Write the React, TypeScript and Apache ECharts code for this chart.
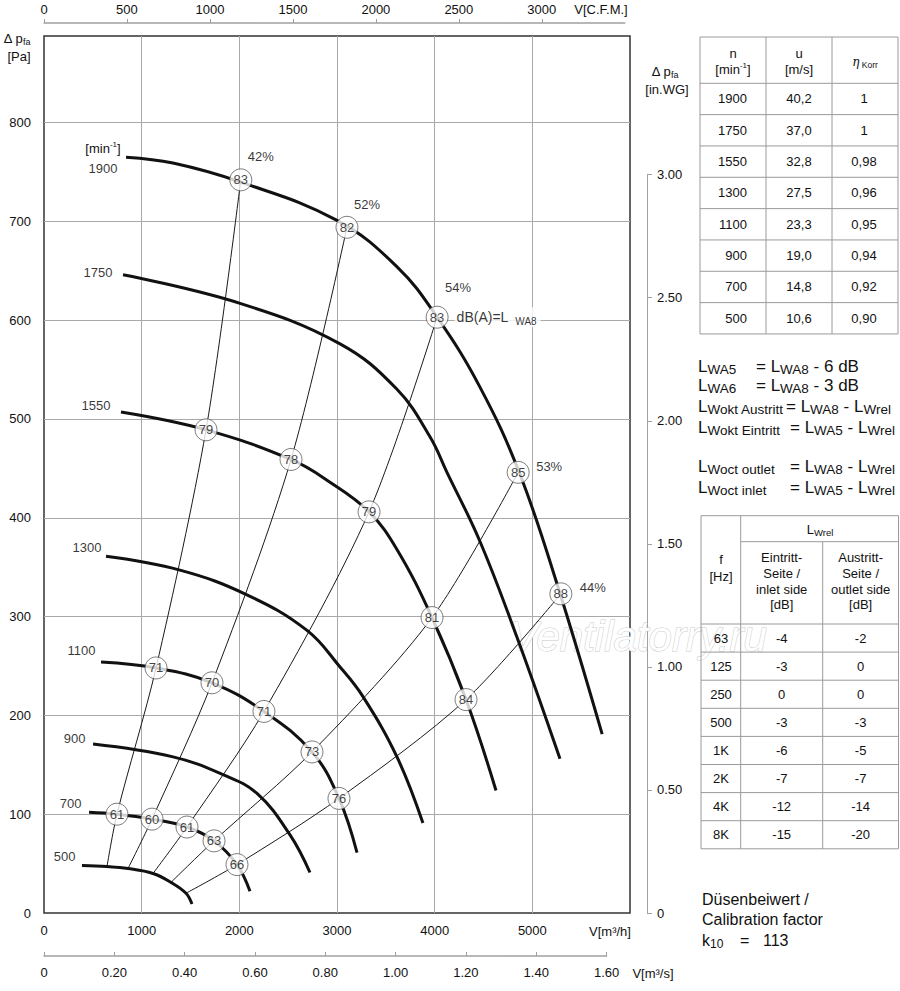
import React, { useEffect, useRef } from 'react';
import * as echarts from 'echarts';

const FONT = '"Liberation Sans", Arial, Helvetica, sans-serif';
const INK = '#1a1a1a';
const GRID_GRAY = '#a9a9a9';
const AXIS_GRAY = '#a0a0a0';
const TABLE_GRAY = '#9a9a9a';
const CLEAR = 'rgba(0,0,0,0)';

// ---- Fan speeds [min^-1] ----
const speeds = [1900, 1750, 1550, 1300, 1100, 900, 700, 500];

// ---- Characteristic curves: [V m³/h, Δp_fa Pa] ----
const curve1900 = [[840, 765], [1320, 759], [2005, 740], [3000, 701], [3615, 654], [4025, 603], [4465, 532], [4865, 446], [5250, 334], [5715, 181]];
const curve1750 = [[809, 646], [2007, 617], [3031, 576], [3614, 530], [3952, 482], [4126, 446], [4464, 376], [4843, 279], [5283, 156]];
const curve1550 = [[788, 507], [1659, 489], [2529, 459], [2928, 436], [3328, 406], [3614, 368], [3973, 299], [4321, 216], [4628, 124]];
const curve1300 = [[635, 361], [1392, 347], [2078, 322], [2693, 286], [3031, 249], [3266, 219], [3614, 158], [3880, 91]];
const curve1100 = [[584, 254], [1147, 248], [1720, 233], [2252, 204], [2744, 163], [3020, 116], [3205, 61]];
const curve900 = [[502, 171], [1321, 158], [1833, 140], [2181, 121], [2519, 79], [2723, 41]];
const curve700 = [[461, 102], [747, 100], [1106, 95], [1464, 87], [1741, 73], [1976, 49], [2109, 22]];
const curve500 = [[389, 48], [645, 47], [860, 45], [1116, 40], [1300, 31], [1454, 20], [1515, 9]];

// ---- Efficiency lines (start on 500 curve, then 700 / 1100 / 1550 / 1900 points) ----
const effLabels = ['42%', '52%', '54%', '53%', '44%'];
const eff42 = [[645, 47], [747, 100], [1147, 248], [1659, 489], [2015, 742]];
const eff52 = [[860, 45], [1106, 95], [1720, 233], [2529, 459], [3102, 694]];
const eff54 = [[1116, 40], [1464, 87], [2252, 204], [3328, 406], [4025, 603]];
const eff53 = [[1300, 31], [1741, 73], [2744, 163], [3973, 299], [4855, 446]];
const eff44 = [[1454, 20], [1976, 49], [3020, 116], [4321, 216], [5292, 323]];

// ---- Sound power level L_WA8 [dB(A)] at the circled points ----
const dB42 = [61, 71, 79, 83];
const dB52 = [60, 70, 78, 82];
const dB54 = [61, 71, 79, 83];
const dB53 = [63, 73, 81, 85];
const dB44 = [66, 76, 84, 88];

// ---- Axis tick labels / extents ----
const flowMax = 6000; // m³/h
const flowInterval = 1000;
const paMax = 887.6; // Pa at top of plot
const paInterval = 100;
const cfmMax = 3500;
const cfmInterval = 500;
const m3sMax = 1.6;
const m3sInterval = 0.2;
const inwgMax = 3;
const inwgInterval = 0.5;
const CFM_TO_M3H = 1.69901;
const INWG_TO_PA = 249.089;

// ---- Speed table ----
const tableSpeeds = ['1900', '1750', '1550', '1300', '1100', '900', '700', '500'];
const tipSpeeds = ['40,2', '37,0', '32,8', '27,5', '23,3', '19,0', '14,8', '10,6'];
const etaKorr = ['1', '1', '0,98', '0,96', '0,95', '0,94', '0,92', '0,90'];

// ---- L_Wrel table ----
const octaveBands = ['63', '125', '250', '500', '1K', '2K', '4K', '8K'];
const lwrelInlet = ['-4', '-3', '0', '-3', '-6', '-7', '-12', '-15'];
const lwrelOutlet = ['-2', '0', '0', '-3', '-5', '-7', '-14', '-20'];

const calibrationK10 = '113';
const watermark = 'Ventilatorry.ru';

// layout (styles, not data)
const speedLabelGap = [8, 10, 10, 4, 5, 7, 7, 6];
const speedLabelDy = [11, -2, -7, -9, -12, -6, -9, -9];
const effLabelOffsets = [[20, -23], [20, -23], [21, -30], [31, -6], [32, -6]];

const PLOT = { left: 44, top: 36, width: 586, height: 877 };

function rich(size: number, extra: any = {}) {
  return { fontSize: size, fontFamily: FONT, ...extra };
}

function buildGraphic() {
  const g: any[] = [];
  const txt = (x: number, y: number, text: string, extra: any = {}) =>
    g.push({
      type: 'text',
      x,
      y,
      z: 20,
      silent: true,
      style: { text, fontSize: 13, fontFamily: FONT, fill: '#111', align: 'center', verticalAlign: 'middle', ...extra },
    });
  const ln = (x1: number, y1: number, x2: number, y2: number, stroke = TABLE_GRAY, lineWidth = 1) =>
    g.push({ type: 'line', z: 20, silent: true, shape: { x1, y1, x2, y2 }, style: { stroke, lineWidth } });

  // watermark
  g.push({
    type: 'text',
    x: 510,
    y: 636,
    z: 1,
    silent: true,
    style: {
      text: watermark,
      fontSize: 42,
      lineHeight: 30,
      fontStyle: 'italic',
      fontFamily: FONT,
      fill: '#ffffff',
      stroke: '#c9c9c9',
      lineWidth: 1,
      align: 'left',
      verticalAlign: 'middle',
    },
  });

  const subRich = {
    m: rich(13, { lineHeight: 16 }),
    s: rich(9, { lineHeight: 8, verticalAlign: 'bottom' }),
    u: rich(8, { lineHeight: 6, verticalAlign: 'top' }),
  };

  // axis titles
  txt(17, 38, '{m|Δ p}{s|fa}', { rich: subRich });
  txt(19, 56, '[Pa]');
  txt(665, 71, '{m|Δ p}{s|fa}', { rich: subRich });
  txt(667, 89, '[in.WG]');
  txt(610, 931, 'V[m³/h]');
  txt(653, 973, 'V[m³/s]');
  txt(601, 9, 'V[C.F.M.]');
  txt(103, 148, '{m|[min}{u|-1}{m|]}', { rich: subRich });

  // ---- speed table ----
  const t1x = [700, 766, 832, 898];
  const t1top = 37;
  const t1head = 83.3;
  const t1row = 31.33;
  const t1bottom = t1head + t1row * 8;
  g.push({
    type: 'rect',
    z: 20,
    silent: true,
    shape: { x: t1x[0], y: t1top, width: t1x[3] - t1x[0], height: t1bottom - t1top },
    style: { fill: 'none', stroke: TABLE_GRAY, lineWidth: 1 },
  });
  ln(t1x[1], t1top, t1x[1], t1bottom);
  ln(t1x[2], t1top, t1x[2], t1bottom);
  for (let i = 0; i < 8; i++) ln(t1x[0], t1head + t1row * i, t1x[3], t1head + t1row * i);
  txt(733, 53, 'n');
  txt(733, 69, '{m|[min}{u|-1}{m|]}', { rich: subRich });
  txt(799, 53, 'u');
  txt(799, 69, '[m/s]');
  txt(865, 62, '{e|η}{k| Korr}', {
    rich: {
      e: rich(12, { fontStyle: 'italic', lineHeight: 14, fontFamily: '"DejaVu Serif", serif' }),
      k: rich(8.5, { lineHeight: 12, verticalAlign: 'bottom' }),
    },
  });
  for (let i = 0; i < 8; i++) {
    const y = t1head + t1row * (i + 0.5);
    txt(747, y, tableSpeeds[i], { align: 'right' });
    txt(799, y, tipSpeeds[i]);
    txt(864, y, etaKorr[i]);
  }

  // ---- formulas ----
  const fRich = {
    L: rich(17, { lineHeight: 20 }),
    s: rich(13.5, { lineHeight: 17, verticalAlign: 'bottom' }),
    n: rich(17, { lineHeight: 20 }),
  };
  const fl = (x: number, y: number, text: string) => txt(x, y, text, { align: 'left', fontSize: 17, rich: fRich });
  fl(698, 366, '{L|L}{s|WA5}');
  fl(756, 366, '{n|= }{L|L}{s|WA8}{n| - 6 dB}');
  fl(698, 385, '{L|L}{s|WA6}');
  fl(756, 385, '{n|= }{L|L}{s|WA8}{n| - 3 dB}');
  fl(698, 406, '{L|L}{s|Wokt Austritt}');
  fl(786, 406, '{n|= }{L|L}{s|WA8}{n| - }{L|L}{s|Wrel}');
  fl(698, 427, '{L|L}{s|Wokt Eintritt}');
  fl(790, 427, '{n|= }{L|L}{s|WA5}{n| - }{L|L}{s|Wrel}');
  fl(698, 466, '{L|L}{s|Woct outlet}');
  fl(790, 466, '{n|= }{L|L}{s|WA8}{n| - }{L|L}{s|Wrel}');
  fl(698, 487, '{L|L}{s|Woct inlet}');
  fl(790, 487, '{n|= }{L|L}{s|WA5}{n| - }{L|L}{s|Wrel}');

  // ---- L_Wrel table ----
  const t2x = [701, 740.7, 822.7, 898.5];
  const t2top = 515.7;
  const t2sub = 541.7;
  const t2head = 624;
  const t2row = 28.1;
  const t2bottom = t2head + t2row * 8;
  g.push({
    type: 'rect',
    z: 20,
    silent: true,
    shape: { x: t2x[0], y: t2top, width: t2x[3] - t2x[0], height: t2bottom - t2top },
    style: { fill: 'none', stroke: TABLE_GRAY, lineWidth: 1 },
  });
  ln(t2x[1], t2top, t2x[1], t2bottom);
  ln(t2x[2], t2sub, t2x[2], t2bottom);
  ln(t2x[1], t2sub, t2x[3], t2sub);
  for (let i = 0; i < 8; i++) ln(t2x[0], t2head + t2row * i, t2x[3], t2head + t2row * i);
  txt(820, 529, '{m|L}{w|Wrel}', {
    rich: { m: rich(13, { lineHeight: 16 }), w: rich(9.5, { lineHeight: 12, verticalAlign: 'bottom' }) },
  });
  txt(721, 559, 'f');
  txt(721, 576, '[Hz]');
  const h2 = [557, 573, 589, 604];
  ['Eintritt-', 'Seite /', 'inlet side', '[dB]'].forEach((s, i) => txt(781.7, h2[i], s));
  ['Austritt-', 'Seite /', 'outlet side', '[dB]'].forEach((s, i) => txt(860.6, h2[i], s));
  for (let i = 0; i < 8; i++) {
    const y = t2head + t2row * (i + 0.5);
    txt(721, y, octaveBands[i]);
    txt(781.7, y, lwrelInlet[i]);
    txt(860.6, y, lwrelOutlet[i]);
  }

  // ---- calibration factor ----
  txt(702, 899, 'Düsenbeiwert /', { align: 'left', fontSize: 16 });
  txt(702, 919, 'Calibration factor', { align: 'left', fontSize: 16 });
  txt(702, 940, '{k|k}{s|10}', {
    align: 'left',
    rich: { k: rich(16, { lineHeight: 20 }), s: rich(12, { lineHeight: 12, verticalAlign: 'bottom' }) },
  });
  txt(740, 940, '=', { align: 'left', fontSize: 16 });
  txt(763, 940, calibrationK10, { align: 'left', fontSize: 16 });

  return g;
}

function buildOption() {
  const pxPerFlow = PLOT.width / flowMax;
  const pxPerPa = PLOT.height / paMax;
  const cfmW = cfmMax * CFM_TO_M3H * pxPerFlow;
  const m3sW = m3sMax * 3600 * pxPerFlow;
  const inwgH = inwgMax * INWG_TO_PA * pxPerPa;
  const plotBottom = PLOT.top + PLOT.height;

  const speedCurves = [curve1900, curve1750, curve1550, curve1300, curve1100, curve900, curve700, curve500];
  const effLines = [eff42, eff52, eff54, eff53, eff44];
  const dBValues = [dB42, dB52, dB54, dB53, dB44];

  const circleData: any[] = [];
  effLines.forEach((line, k) => line.slice(1).forEach((p, j) => circleData.push([p[0], p[1], dBValues[k][j]])));

  const labelText = { fontFamily: FONT, fontSize: 13, color: '#111' };
  const fmt2 = (v: number) => (v === 0 ? '0' : v.toFixed(2));
  const fmtInt = (v: number) => String(Math.round(v));

  const series: any[] = [];
  effLines.forEach((d) =>
    series.push({
      type: 'line',
      xAxisIndex: 0,
      yAxisIndex: 0,
      data: d,
      smooth: 0.3,
      symbol: 'none',
      silent: true,
      z: 3,
      lineStyle: { color: INK, width: 1 },
    })
  );
  speedCurves.forEach((d) =>
    series.push({
      type: 'line',
      xAxisIndex: 0,
      yAxisIndex: 0,
      data: d,
      smooth: 0.4,
      symbol: 'none',
      silent: true,
      z: 4,
      lineStyle: { color: '#111', width: 3 },
    })
  );
  series.push({
    type: 'scatter',
    xAxisIndex: 0,
    yAxisIndex: 0,
    data: circleData,
    symbol: 'circle',
    symbolSize: 22,
    silent: true,
    z: 6,
    itemStyle: { color: '#fff', borderColor: '#4a4a4a', borderWidth: 0.9 },
    label: { show: true, position: 'inside', formatter: (p: any) => String(p.value[2]), ...labelText, color: '#111' },
  });
  series.push({
    type: 'scatter',
    xAxisIndex: 0,
    yAxisIndex: 0,
    symbolSize: 1,
    silent: true,
    z: 6,
    itemStyle: { color: CLEAR },
    label: { show: true, position: 'left', ...labelText, color: '#000' },
    data: speedCurves.map((c, i) => ({
      value: c[0],
      label: { formatter: String(speeds[i]), distance: speedLabelGap[i], offset: [0, speedLabelDy[i]] },
    })),
  });
  series.push({
    type: 'scatter',
    xAxisIndex: 0,
    yAxisIndex: 0,
    symbolSize: 1,
    silent: true,
    z: 6,
    itemStyle: { color: CLEAR },
    label: { show: true, position: 'inside', ...labelText, color: '#000', textBorderWidth: 0 },
    data: effLines.map((line, k) => ({
      value: line[line.length - 1],
      label: { formatter: effLabels[k], offset: effLabelOffsets[k] },
    })),
  });
  series.push({
    type: 'scatter',
    xAxisIndex: 0,
    yAxisIndex: 0,
    symbolSize: 1,
    silent: true,
    z: 5,
    itemStyle: { color: CLEAR },
    label: {
      show: true,
      position: 'right',
      distance: 17,
      backgroundColor: '#fff',
      padding: [1, 4, 1, 2],
      formatter: '{a|dB(A)=L}{b|WA8}',
      rich: {
        a: rich(14, { lineHeight: 18, color: '#000' }),
        b: rich(10, { lineHeight: 8, verticalAlign: 'bottom', color: '#000', padding: [0, 0, 0, 7] }),
      },
    },
    data: [eff54[eff54.length - 1]],
  });

  return {
    animation: false,
    backgroundColor: '#fff',
    textStyle: { fontFamily: FONT },
    grid: [
      { ...PLOT, show: true, borderColor: '#333', borderWidth: 1.5, backgroundColor: CLEAR },
      { left: 647, top: plotBottom - inwgH, width: 1, height: inwgH },
      { left: PLOT.left, top: 22, width: cfmW, height: 1 },
      { left: PLOT.left, top: 955, width: m3sW, height: 1 },
    ],
    xAxis: [
      {
        gridIndex: 0,
        type: 'value',
        min: 0,
        max: flowMax,
        interval: flowInterval,
        axisLine: { show: false },
        axisTick: { show: false },
        splitLine: { show: true, showMinLine: false, showMaxLine: false, lineStyle: { color: GRID_GRAY, width: 1 } },
        axisLabel: { margin: 11, showMaxLabel: false, formatter: fmtInt, ...labelText },
      },
      { gridIndex: 1, type: 'value', show: false },
      {
        gridIndex: 2,
        type: 'value',
        position: 'top',
        min: 0,
        max: cfmMax,
        interval: cfmInterval,
        axisLine: { show: true, lineStyle: { color: AXIS_GRAY, width: 1.5 } },
        axisTick: { show: true, length: 4, lineStyle: { color: AXIS_GRAY } },
        splitLine: { show: false },
        axisLabel: { margin: 6, showMaxLabel: false, formatter: fmtInt, ...labelText },
      },
      {
        gridIndex: 3,
        type: 'value',
        position: 'bottom',
        min: 0,
        max: m3sMax,
        interval: m3sInterval,
        axisLine: { show: true, lineStyle: { color: AXIS_GRAY, width: 1.5 } },
        axisTick: { show: true, inside: true, length: 4, lineStyle: { color: AXIS_GRAY } },
        splitLine: { show: false },
        axisLabel: { margin: 10, formatter: fmt2, ...labelText },
      },
    ],
    yAxis: [
      {
        gridIndex: 0,
        type: 'value',
        min: 0,
        max: paMax,
        interval: paInterval,
        axisLine: { show: false },
        axisTick: { show: false },
        splitLine: { show: true, showMinLine: false, showMaxLine: false, lineStyle: { color: GRID_GRAY, width: 1 } },
        axisLabel: { margin: 13, showMaxLabel: false, formatter: fmtInt, ...labelText },
      },
      {
        gridIndex: 1,
        type: 'value',
        position: 'right',
        min: 0,
        max: inwgMax,
        interval: inwgInterval,
        axisLine: { show: true, lineStyle: { color: AXIS_GRAY, width: 1 } },
        axisTick: { show: true, length: 5, lineStyle: { color: AXIS_GRAY } },
        splitLine: { show: false },
        axisLabel: { margin: 9, formatter: fmt2, ...labelText },
      },
      { gridIndex: 2, type: 'value', show: false },
      { gridIndex: 3, type: 'value', show: false },
    ],
    series,
    graphic: { elements: buildGraphic() },
  };
}

export default function App() {
  const ref = useRef<HTMLDivElement>(null);
  useEffect(() => {
    document.body.style.margin = '0';
    const chart = echarts.init(ref.current as HTMLDivElement, null, { renderer: 'svg' });
    chart.setOption(buildOption() as any);
    return () => chart.dispose();
  }, []);
  return (
    <div
      ref={ref}
      style={{ position: 'absolute', left: 0, top: 0, width: 900, height: 991, background: '#fff' }}
    />
  );
}
